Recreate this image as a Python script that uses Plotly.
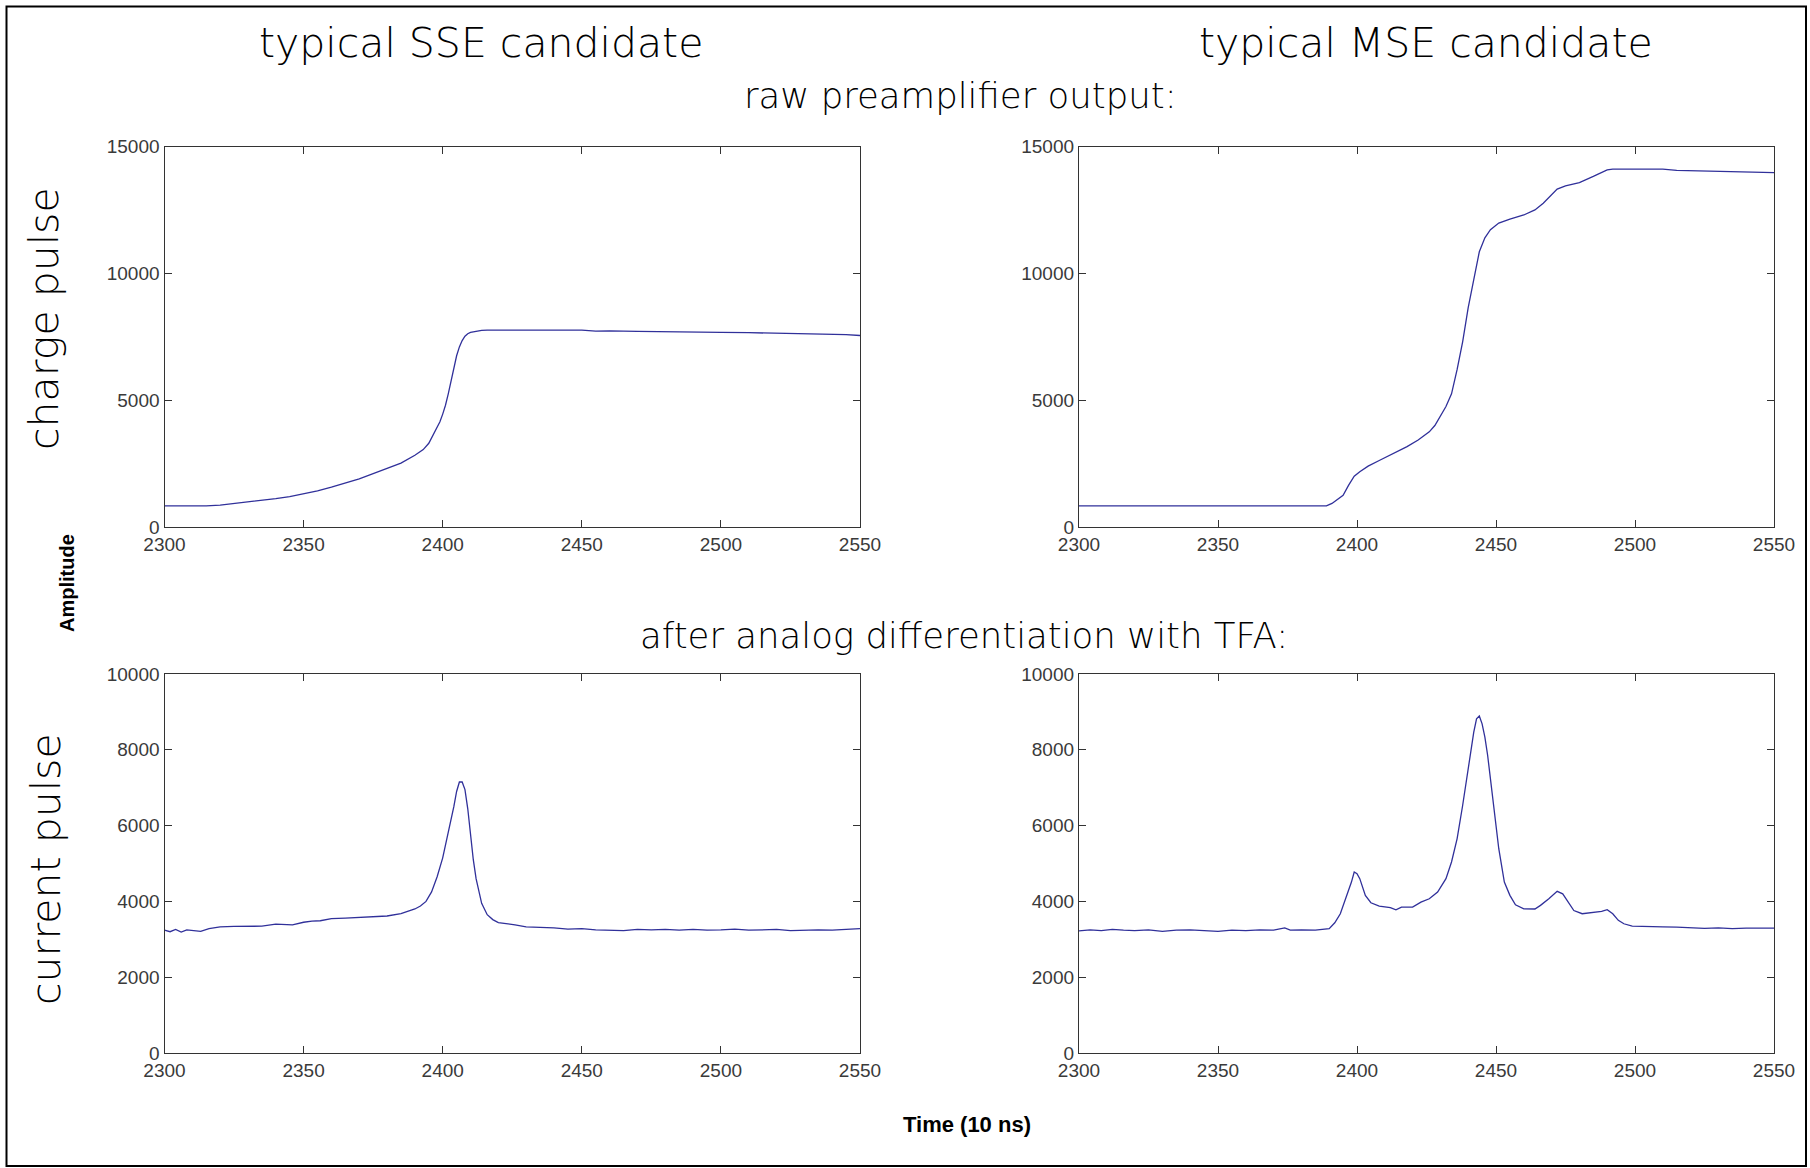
import plotly.graph_objects as go

W, H = 1810, 1168

# ---------------- data (time in 10 ns units, amplitude) ----------------
sse_charge = [(2300, 830), (2305, 820), (2310, 810), (2315, 830), (2320, 860), (2325, 920),
              (2330, 980), (2335, 1050), (2340, 1120), (2345, 1200), (2350, 1300), (2355, 1420),
              (2360, 1570), (2365, 1730), (2370, 1900), (2375, 2100), (2380, 2300), (2385, 2520),
              (2390, 2830), (2393, 3050), (2395, 3300), (2397, 3700), (2399, 4150), (2400, 4450),
              (2401, 4800), (2402, 5250), (2403, 5800), (2404, 6300), (2405, 6750), (2406, 7100),
              (2407, 7350), (2408, 7520), (2409, 7620), (2410, 7670), (2412, 7720), (2414, 7750),
              (2416, 7760), (2420, 7760), (2430, 7760), (2440, 7750), (2450, 7760), (2455, 7720),
              (2460, 7730), (2470, 7710), (2480, 7690), (2490, 7680), (2500, 7670), (2510, 7660),
              (2520, 7645), (2530, 7630), (2540, 7610), (2545, 7580), (2550, 7550)]

mse_charge = [(2300, 830), (2389, 830), (2391, 930), (2393, 1080), (2395, 1250), (2397, 1650),
              (2399, 2000), (2401, 2180), (2404, 2400), (2408, 2620), (2413, 2880), (2418, 3170),
              (2422, 3430), (2426, 3750), (2428, 4000), (2430, 4370), (2432, 4750), (2434, 5250),
              (2436, 6200), (2438, 7300), (2440, 8650), (2442, 9750), (2444, 10850), (2446, 11400),
              (2448, 11720), (2451, 11980), (2455, 12140), (2460, 12300), (2464, 12500), (2467, 12760),
              (2470, 13080), (2472, 13320), (2475, 13450), (2480, 13580), (2485, 13820), (2490, 14080),
              (2492, 14110), (2510, 14110), (2515, 14060), (2525, 14040), (2540, 13990), (2550, 13970)]

sse_current = [(2300, 3240), (2302, 3200), (2304, 3260), (2306, 3190), (2308, 3250), (2310, 3230),
               (2313, 3210), (2316, 3280), (2320, 3330), (2325, 3340), (2330, 3350), (2335, 3345),
               (2340, 3400), (2343, 3390), (2346, 3380), (2350, 3450), (2353, 3480), (2356, 3490),
               (2360, 3545), (2365, 3560), (2370, 3580), (2375, 3600), (2380, 3615), (2385, 3680),
               (2388, 3740), (2390, 3800), (2392, 3880), (2394, 4000), (2396, 4250), (2398, 4650),
               (2400, 5150), (2402, 5800), (2404, 6500), (2405, 6900), (2406, 7150), (2407, 7150),
               (2408, 6950), (2409, 6450), (2410, 5700), (2411, 5100), (2412, 4600), (2414, 3950),
               (2416, 3650), (2418, 3520), (2420, 3440), (2423, 3400), (2426, 3380), (2430, 3330),
               (2435, 3320), (2440, 3300), (2445, 3270), (2450, 3280), (2455, 3250), (2460, 3250),
               (2465, 3230), (2470, 3260), (2475, 3250), (2480, 3260), (2485, 3240), (2490, 3260),
               (2495, 3240), (2500, 3250), (2505, 3270), (2510, 3240), (2515, 3250), (2520, 3260),
               (2525, 3230), (2530, 3250), (2535, 3250), (2540, 3240), (2545, 3260), (2550, 3280)]

mse_current = [(2300, 3220), (2304, 3250), (2308, 3230), (2312, 3260), (2316, 3240), (2320, 3230),
               (2325, 3250), (2330, 3210), (2335, 3240), (2340, 3250), (2345, 3230), (2350, 3210),
               (2355, 3240), (2360, 3230), (2365, 3250), (2370, 3240), (2374, 3300), (2376, 3240),
               (2380, 3250), (2385, 3240), (2390, 3280), (2392, 3435), (2394, 3675), (2396, 4070),
               (2398, 4510), (2399, 4775), (2400, 4730), (2401, 4600), (2403, 4160), (2405, 3965),
               (2408, 3875), (2412, 3835), (2414, 3780), (2416, 3850), (2420, 3850), (2423, 3980),
               (2426, 4070), (2429, 4245), (2432, 4600), (2434, 5040), (2436, 5650), (2438, 6530),
               (2440, 7500), (2442, 8465), (2443, 8815), (2444, 8890), (2445, 8685), (2446, 8335),
               (2447, 7850), (2449, 6620), (2451, 5390), (2453, 4510), (2455, 4160), (2457, 3910),
               (2460, 3805), (2464, 3800), (2466, 3895), (2469, 4070), (2472, 4265), (2474, 4200),
               (2476, 3965), (2478, 3760), (2481, 3675), (2485, 3700), (2488, 3735), (2490, 3780),
               (2492, 3675), (2494, 3500), (2496, 3410), (2499, 3350), (2502, 3340), (2510, 3330),
               (2515, 3320), (2520, 3305), (2525, 3290), (2530, 3300), (2535, 3280), (2540, 3295),
               (2545, 3290), (2550, 3295)]

x_ticks = [2300, 2350, 2400, 2450, 2500, 2550]
charge_ticks = [0, 5000, 10000, 15000]
current_ticks = [0, 2000, 4000, 6000, 8000, 10000]

# ---------------- figure ----------------
LINE = "#30309a"
fig = go.Figure()

series = [(sse_charge, "x", "y"), (mse_charge, "x2", "y2"),
          (sse_current, "x3", "y3"), (mse_current, "x4", "y4")]
for data, xa, ya in series:
    fig.add_trace(go.Scatter(x=[p[0] for p in data], y=[p[1] for p in data],
                             mode="lines", line=dict(color=LINE, width=1.3),
                             xaxis=xa, yaxis=ya, showlegend=False, hoverinfo="skip"))

def px_x(a, b):
    return [a / W, b / W]

def px_y(top, bottom):
    return [1 - bottom / H, 1 - top / H]

left_dom = px_x(164.5, 860)
right_dom = px_x(1079, 1774)
top_dom = px_y(146.5, 527)
bot_dom = px_y(674, 1053)

tick_font = dict(family="Liberation Sans, Arial, sans-serif", size=19, color="#3a3a3a")
common = dict(showline=True, linecolor="#333333", linewidth=1.3, mirror="ticks",
              ticks="inside", ticklen=7, tickwidth=1.2, tickcolor="#333333",
              showgrid=False, zeroline=False, tickfont=tick_font, fixedrange=True,
              automargin=False)

def xax(dom, anchor):
    return dict(domain=dom, anchor=anchor, range=[2300, 2550], tickvals=x_ticks,
                ticktext=[str(v) for v in x_ticks], **common)

def yax(dom, anchor, rng, ticks):
    return dict(domain=dom, anchor=anchor, range=rng, tickvals=ticks,
                ticktext=[str(v) for v in ticks], **common)

fig.update_layout(
    width=W, height=H,
    margin=dict(l=0, r=0, t=0, b=0, pad=0, autoexpand=False),
    paper_bgcolor="white", plot_bgcolor="white",
    xaxis=xax(left_dom, "y"), yaxis=yax(top_dom, "x", [0, 15000], charge_ticks),
    xaxis2=xax(right_dom, "y2"), yaxis2=yax(top_dom, "x2", [0, 15000], charge_ticks),
    xaxis3=xax(left_dom, "y3"), yaxis3=yax(bot_dom, "x3", [0, 10000], current_ticks),
    xaxis4=xax(right_dom, "y4"), yaxis4=yax(bot_dom, "x4", [0, 10000], current_ticks),
)

# outer frame
fig.add_shape(type="rect", xref="paper", yref="paper",
              x0=6.5 / W, x1=1806 / W, y0=1 - 1166 / H, y1=1 - 6.5 / H,
              line=dict(color="black", width=2), fillcolor="rgba(0,0,0,0)", layer="below")

big = "DejaVu Sans, Verdana, sans-serif"
label = "Liberation Sans, Arial, sans-serif"

def note(text, x, y, size, fam=big, angle=0, weight=300, color="black"):
    fig.add_annotation(text=text, xref="paper", yref="paper", x=x / W, y=1 - y / H,
                       xanchor="center", yanchor="middle", showarrow=False, textangle=angle,
                       font=dict(family=fam, size=size, color=color, weight=weight))

note("typical SSE candidate", 481, 43, 41)
note("typical MSE candidate", 1426, 43, 41)
note("raw preamplifier output:", 960, 95, 35.5)
note("after analog differentiation with TFA:", 964, 635, 35.5)
note("charge pulse", 44, 319, 41, angle=-90)
note("current pulse", 46, 869, 41, angle=-90)
note("Amplitude", 67, 583, 20, fam=label, angle=-90, weight="bold")
note("Time (10 ns)", 967, 1124, 22, fam=label, weight="bold")

fig.write_html("out.html")
